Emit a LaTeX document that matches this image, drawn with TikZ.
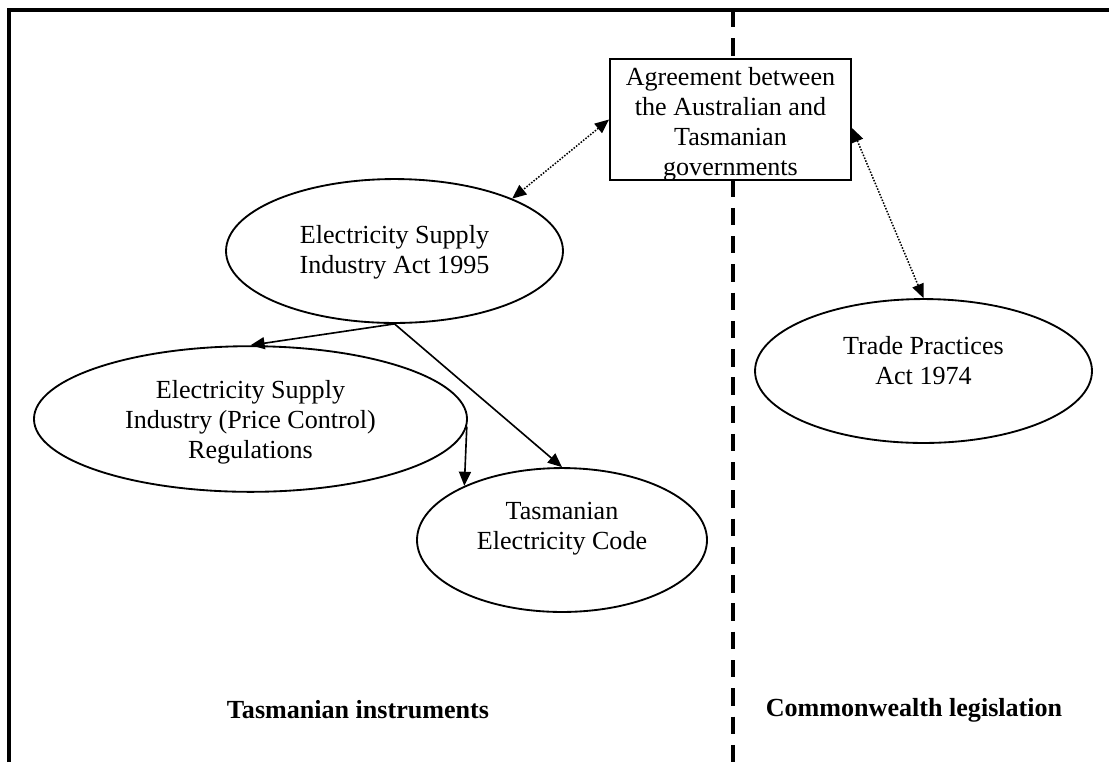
\documentclass[tikz,border=0pt]{standalone}
\usepackage{fontspec}
\setmainfont{Liberation Serif}
\usetikzlibrary{shapes.geometric,arrows.meta}

\begin{document}
\begin{tikzpicture}[line join=miter,>={Triangle[length=6.5pt,width=5.5pt]},x=0.46pt,y=-0.46pt,
  words/.style={align=center,font=\fontsize{12}{13.8}\selectfont},
  heading/.style={font=\fontsize{12}{13.8}\selectfont\bfseries},
  oval/.style={draw,ellipse,line width=0.85pt,inner sep=0pt,minimum height=66.2pt},
  link/.style={->,line width=0.75pt},
  tie/.style={<->,line width=0.7pt,dash pattern=on 0.7pt off 0.7pt}]
\useasboundingbox (0,0) rectangle (1109,762);
\draw[line width=1.4pt] (9,762)--(9,10)--(1109,10);
\draw[line width=1.8pt,dash pattern=on 8pt off 5pt] (733,10)--(733,762);
\node[draw,fill=white,line width=0.85pt,inner sep=0pt,minimum width=110.9pt,minimum height=55.7pt] (agree) at (730.5,119.5) {};
\node[words] (agreetxt) at (730.5,124.5) {Agreement between\\the Australian and\\Tasmanian\\governments};
\node[oval,minimum width=155pt] (esia) at (394.5,251) {};
\node[words] (esiatxt) at (394.5,252) {Electricity Supply\\Industry Act 1995};
\node[oval,minimum width=199.2pt,minimum height=67pt] (regs) at (250.5,419) {};
\node[words] (regstxt) at (250.5,422) {Electricity Supply\\Industry (Price Control)\\Regulations};
\node[oval,minimum width=133.4pt] (code) at (562,540) {};
\node[words] (codetxt) at (562,529) {Tasmanian\\Electricity Code};
\node[oval,minimum width=155pt] (tpa) at (923.5,371) {};
\node[words] (tpatxt) at (923.5,361) {Trade Practices\\Act 1974};
\node[heading] (tasl) at (358,710) {Tasmanian instruments};
\node[heading] (cwl) at (914,710) {Commonwealth legislation};
\draw[tie] (agree.west) -- (esia.24);
\draw[tie] (agree.-4.5) -- (tpa.north);
\draw[link] (esia.south) -- (regs.north);
\draw[link] (esia.south) -- (code.north);
\draw[link] (regs.-2) -- (code.151);
\end{tikzpicture}
\end{document}
